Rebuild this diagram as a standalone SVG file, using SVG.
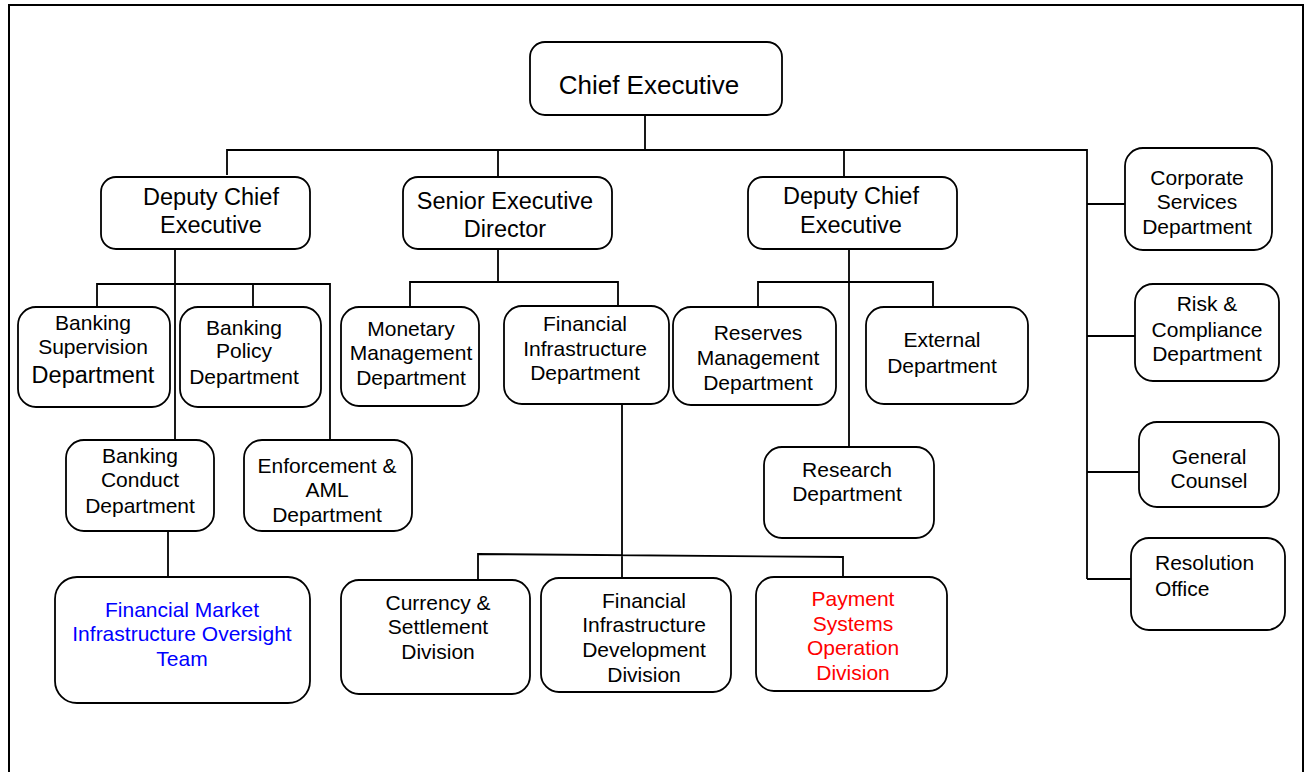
<svg xmlns="http://www.w3.org/2000/svg" width="1312" height="772" viewBox="0 0 1312 772">
<style>
.box{fill:#fff;stroke:#000;stroke-width:1.8}
.c{fill:none;stroke:#000;stroke-width:1.8}
text{font-family:"Liberation Sans",Arial,sans-serif;font-size:21px;fill:#000;text-anchor:middle}
.big{font-size:23.5px}
.ce{font-size:26px}
.blue{fill:#0000ff}
.red{fill:#ff0000}
</style>
<rect x="0" y="0" width="1312" height="772" fill="#fff"/>
<path d="M9,772 V5 H1303 V772" fill="none" stroke="#000" stroke-width="2"/>
<g id="connectors" class="c">
<path d="M645,115 V150 M227,175 V150 H1087 V579 M498,150 V177 M844,150 V177"/>
<path d="M1087,204 H1125 M1087,336 H1135 M1087,472 H1139 M1087,579 H1131"/>
<path d="M175,249 V440 M97,308 V284 H330 V440 M253,284 V307"/>
<path d="M168,531 V577"/>
<path d="M498,249 V282 M410,307 V282 H618 V306"/>
<path d="M622,404 V578 M478,580 V554 L843,557 V580"/>
<path d="M849,249 V447 M758,307 V282 H933 V307"/>
</g>
<g id="chief-executive"><rect class="box" x="530" y="42" width="252" height="73" rx="15"/><text class="ce" x="649" y="94">Chief Executive</text></g>
<g id="dce-left"><rect class="box" x="101" y="177" width="209" height="72" rx="15"/><text class="big" x="211" y="205">Deputy Chief</text><text class="big" x="211" y="233">Executive</text></g>
<g id="sed"><rect class="box" x="403" y="177" width="209" height="72" rx="15"/><text class="big" x="505" y="209">Senior Executive</text><text class="big" x="505" y="237">Director</text></g>
<g id="dce-right"><rect class="box" x="748" y="177" width="209" height="72" rx="15"/><text class="big" x="851" y="204">Deputy Chief</text><text class="big" x="851" y="233">Executive</text></g>
<g id="corporate-services"><rect class="box" x="1125" y="148" width="147" height="102" rx="18"/><text x="1197" y="185">Corporate</text><text x="1197" y="209">Services</text><text x="1197" y="234">Department</text></g>
<g id="risk-compliance"><rect class="box" x="1135" y="284" width="144" height="97" rx="18"/><text x="1207" y="311">Risk &amp;</text><text x="1207" y="337">Compliance</text><text x="1207" y="361">Department</text></g>
<g id="general-counsel"><rect class="box" x="1139" y="422" width="140" height="85" rx="18"/><text x="1209" y="464">General</text><text x="1209" y="488">Counsel</text></g>
<g id="resolution-office"><rect class="box" x="1131" y="538" width="154" height="92" rx="18"/><text x="1155" y="570" style="text-anchor:start">Resolution</text><text x="1155" y="596" style="text-anchor:start">Office</text></g>
<g id="banking-supervision"><rect class="box" x="18" y="307" width="152" height="100" rx="18"/><text x="93" y="330">Banking</text><text x="93" y="354">Supervision</text><text class="big" x="93" y="383">Department</text></g>
<g id="banking-policy"><rect class="box" x="180" y="307" width="141" height="100" rx="18"/><text x="244" y="335">Banking</text><text x="244" y="358">Policy</text><text x="244" y="384">Department</text></g>
<g id="banking-conduct"><rect class="box" x="66" y="440" width="148" height="91" rx="18"/><text x="140" y="463">Banking</text><text x="140" y="487">Conduct</text><text x="140" y="513">Department</text></g>
<g id="enforcement-aml"><rect class="box" x="244" y="440" width="168" height="91" rx="18"/><text x="327" y="473">Enforcement &amp;</text><text x="327" y="497">AML</text><text x="327" y="522">Department</text></g>
<g id="fmi-oversight"><rect class="box" x="55" y="577" width="255" height="126" rx="22"/><text class="blue" x="182" y="617">Financial Market</text><text class="blue" x="182" y="641">Infrastructure Oversight</text><text class="blue" x="182" y="666">Team</text></g>
<g id="monetary-management"><rect class="box" x="341" y="307" width="138" height="99" rx="18"/><text x="411" y="336">Monetary</text><text x="411" y="360">Management</text><text x="411" y="385">Department</text></g>
<g id="financial-infrastructure"><rect class="box" x="504" y="306" width="165" height="98" rx="18"/><text x="585" y="331">Financial</text><text x="585" y="356">Infrastructure</text><text x="585" y="380">Department</text></g>
<g id="currency-settlement"><rect class="box" x="341" y="580" width="189" height="114" rx="18"/><text x="438" y="610">Currency &amp;</text><text x="438" y="634">Settlement</text><text x="438" y="659">Division</text></g>
<g id="fi-development"><rect class="box" x="541" y="578" width="190" height="114" rx="18"/><text x="644" y="608">Financial</text><text x="644" y="632">Infrastructure</text><text x="644" y="657">Development</text><text x="644" y="682">Division</text></g>
<g id="payment-systems"><rect class="box" x="756" y="577" width="191" height="114" rx="18"/><text class="red" x="853" y="606">Payment</text><text class="red" x="853" y="631">Systems</text><text class="red" x="853" y="655">Operation</text><text class="red" x="853" y="680">Division</text></g>
<g id="reserves-management"><rect class="box" x="673" y="307" width="163" height="98" rx="18"/><text x="758" y="340">Reserves</text><text x="758" y="365">Management</text><text x="758" y="390">Department</text></g>
<g id="external"><rect class="box" x="866" y="307" width="162" height="97" rx="18"/><text x="942" y="347">External</text><text x="942" y="373">Department</text></g>
<g id="research"><rect class="box" x="764" y="447" width="170" height="91" rx="18"/><text x="847" y="477">Research</text><text x="847" y="501">Department</text></g>
</svg>
